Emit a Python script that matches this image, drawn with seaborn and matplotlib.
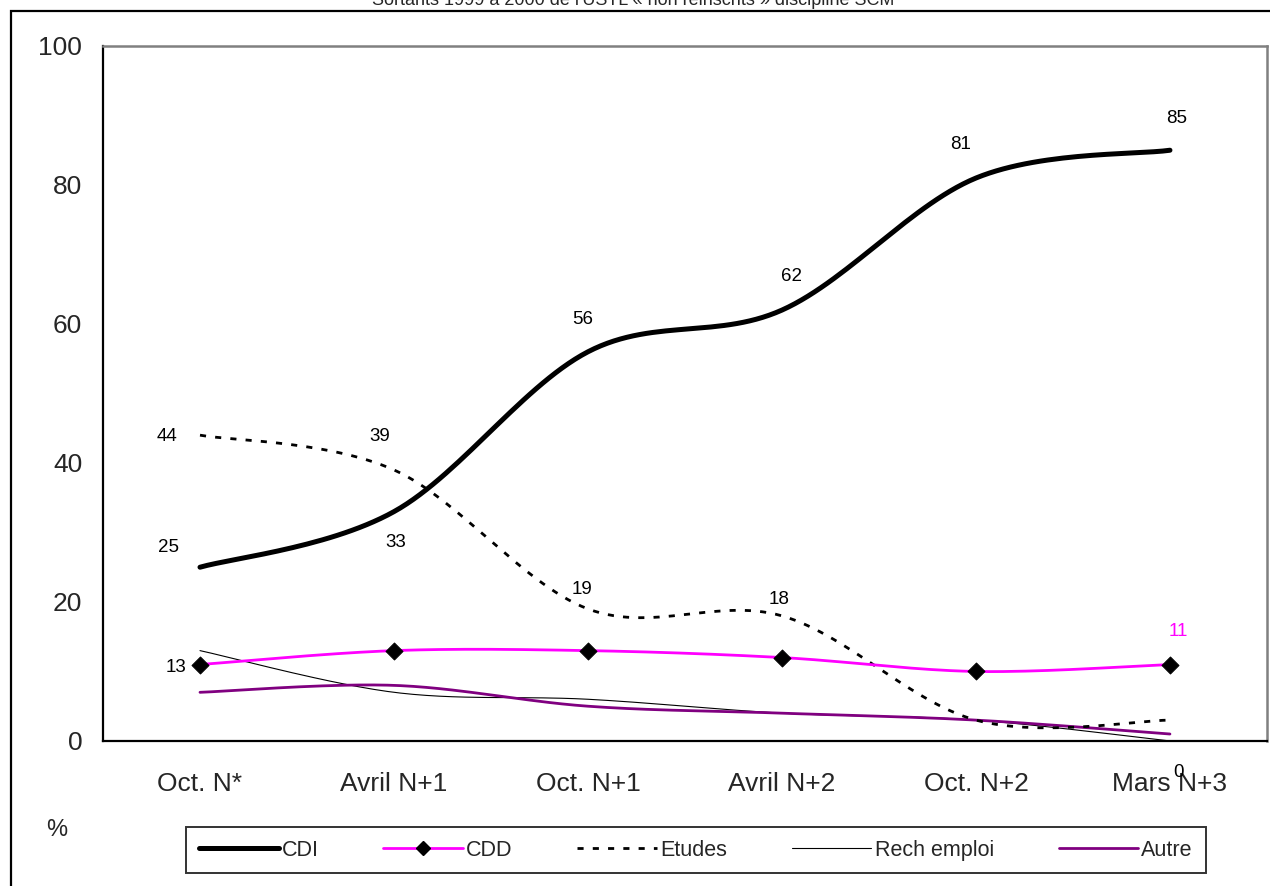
import numpy as np
import pandas as pd
import matplotlib
matplotlib.use("Agg")
import matplotlib.pyplot as plt
from matplotlib.patches import Rectangle
from matplotlib.lines import Line2D
import seaborn as sns

# data
periods = ["Oct. N*", "Avril N+1", "Oct. N+1", "Avril N+2", "Oct. N+2", "Mars N+3"]
cdi = [25, 33, 56, 62, 81, 85]
cdd = [11, 13, 13, 12, 10, 11]
etudes = [44, 39, 19, 18, 3, 3]
rech_emploi = [13, 7, 6, 4, 3, 0]
autre = [7, 8, 5, 4, 3, 1]

title = "Sortants 1999 à 2000 de l'USTL « non réinscrits » discipline SCM"

# data labels shown on chart: (series, index, text, offset in points, colour)
labels = [
    ("cdi", 0, "25", (-23, 14), "black"),
    ("cdi", 1, "33", (1, -22), "black"),
    ("cdi", 2, "56", (-4, 23), "black"),
    ("cdi", 3, "62", (7, 24), "black"),
    ("cdi", 4, "81", (-11, 24), "black"),
    ("cdi", 5, "85", (5, 23), "black"),
    ("etudes", 0, "44", (-24, -1), "black"),
    ("etudes", 1, "39", (-10, 24), "black"),
    ("etudes", 2, "19", (-4, 14), "black"),
    ("etudes", 3, "18", (-2, 12), "black"),
    ("rech", 0, "13", (-17, -12), "black"),
    ("rech", 5, "0", (6, -23), "black"),
    ("cdd", 5, "11", (6, 24), "#FF00FF"),
]


def smooth(vals, n=30):
    # excel style smoothed line (catmull-rom through the points)
    p = np.array(vals, dtype=float)
    x = np.arange(len(p), dtype=float)
    pts = np.column_stack([x, p])
    ext = np.vstack([pts[0], pts, pts[-1]])
    out = []
    for i in range(1, len(ext) - 2):
        p0, p1, p2, p3 = ext[i - 1], ext[i], ext[i + 1], ext[i + 2]
        t = np.linspace(0, 1, n, endpoint=False)[:, None]
        c = 0.5 * ((2 * p1) + (-p0 + p2) * t + (2 * p0 - 5 * p1 + 4 * p2 - p3) * t ** 2
                   + (-p0 + 3 * p1 - 3 * p2 + p3) * t ** 3)
        out.append(c)
    out.append(pts[-1][None, :])
    out = np.vstack(out)
    return out[:, 0], out[:, 1]


sns.set_style("white")
plt.rcParams["font.family"] = ["Liberation Sans", "DejaVu Sans"]

fig = plt.figure(figsize=(12.7, 8.86), dpi=100)
ax = fig.add_axes([0.0811, 0.1637, 0.9165, 0.7844])

series = {
    "cdi": (cdi, dict(color="black", lw=3.6, ls="-")),
    "cdd": (cdd, dict(color="#FF00FF", lw=2.0, ls="-")),
    "etudes": (etudes, dict(color="black", lw=2.0, ls=(0, (2.2, 3.3)))),
    "rech": (rech_emploi, dict(color="black", lw=0.8, ls="-")),
    "autre": (autre, dict(color="#800080", lw=2.0, ls="-")),
}

for key in ["rech", "autre", "etudes", "cdd", "cdi"]:
    vals, st = series[key]
    sx, sy = smooth(vals)
    df = pd.DataFrame({"x": sx, "y": sy})
    sns.lineplot(data=df, x="x", y="y", ax=ax, color=st["color"], linewidth=st["lw"],
                 linestyle=st["ls"], sort=False, estimator=None, solid_capstyle="round",
                 dash_capstyle="butt")

sns.scatterplot(x=np.arange(len(cdd)), y=cdd, ax=ax, marker="D", color="black",
                s=75, edgecolor="black", zorder=5)

for key, i, txt, off, col in labels:
    vals = series[key][0]
    ax.annotate(txt, xy=(i, vals[i]), xytext=off, textcoords="offset points",
                ha="center", va="center", fontsize=13.5, color=col)

ax.set_xlim(-0.5, len(periods) - 0.5)
ax.set_ylim(0, 100)
ax.set_xticks(range(len(periods)))
ax.set_xticklabels(periods)
ax.set_xticks(np.arange(-0.5, len(periods)), minor=True)
ax.set_yticks(range(0, 101, 20))
ax.tick_params(axis="x", which="major", length=0, pad=22, labelsize=19)
ax.tick_params(axis="x", which="minor", length=6, width=1.5, direction="out", color="black")
ax.tick_params(axis="y", length=6, width=1.5, direction="out", color="black", pad=9, labelsize=19)
ax.set_xlabel("")
ax.set_ylabel("")

for s in ["left", "bottom"]:
    ax.spines[s].set_color("black")
    ax.spines[s].set_linewidth(1.6)
for s in ["top", "right"]:
    ax.spines[s].set_color("#808080")
    ax.spines[s].set_linewidth(1.8)

# legend
handles = [
    Line2D([], [], color="black", lw=3.6),
    Line2D([], [], color="#FF00FF", lw=2.0, marker="D", markersize=7,
           markerfacecolor="black", markeredgecolor="black"),
    Line2D([], [], color="black", lw=2.0, ls=(0, (2.2, 3.3))),
    Line2D([], [], color="black", lw=0.8),
    Line2D([], [], color="#800080", lw=2.0),
]
names = ["CDI", "CDD", "Etudes", "Rech emploi", "Autre"]
leg = fig.legend(handles, names, loc="center", bbox_to_anchor=(0.548, 0.0406), ncol=5,
                 fontsize=15.5, frameon=True, fancybox=False, edgecolor="black",
                 handlelength=3.7, handletextpad=0.15, columnspacing=3.0,
                 borderpad=0.6)
leg.get_frame().set_linewidth(1.4)

fig.text(57 / 1270, 1 - 830 / 886, "%", fontsize=17, ha="center", va="center")

# outer frame and the title, clipped by the top edge as in the original
fig.patches.append(Rectangle((11 / 1270, -0.1), 1.2, 1.1 - 11 / 886, transform=fig.transFigure,
                             fill=False, edgecolor="black", lw=1.6))
fig.text(633 / 1270, 1 - 5 / 886, title, fontsize=13, ha="center", va="baseline")

fig.savefig("out.png", dpi=100, facecolor="white")
